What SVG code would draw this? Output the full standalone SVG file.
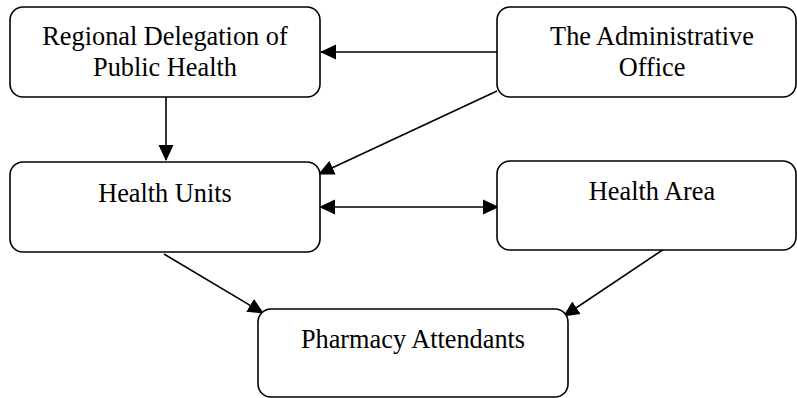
<svg xmlns="http://www.w3.org/2000/svg" width="797" height="398" viewBox="0 0 797 398">
  <style>
    .box { fill: #ffffff; stroke: #000000; stroke-width: 1.6; }
    .lbl { font-family: "Liberation Serif", "Times New Roman", serif; font-size: 26.3px; fill: #000000; text-anchor: middle; }
    .edge { stroke: #000000; stroke-width: 1.6; fill: none; marker-end: url(#head); }
  </style>
  <defs>
    <marker id="head" viewBox="0 0 16 16" refX="15" refY="8" markerWidth="16" markerHeight="16" markerUnits="userSpaceOnUse" orient="auto-start-reverse">
      <path d="M0,0.5 L16,8 L0,15.5 Z" fill="#000000"/>
    </marker>
  </defs>

  <rect width="797" height="398" fill="#ffffff"/>

  <g id="connectors">
    <line class="edge" x1="497" y1="52" x2="321" y2="52"/>
    <line class="edge" x1="166" y1="97" x2="166" y2="160"/>
    <line class="edge" x1="497" y1="91" x2="319" y2="174"/>
    <line class="edge" x1="320" y1="207" x2="498" y2="207" marker-start="url(#head)"/>
    <line class="edge" x1="164" y1="254" x2="263" y2="313"/>
    <line class="edge" x1="664" y1="249" x2="564" y2="316"/>
  </g>

  <g id="regional-delegation">
    <rect class="box" x="10" y="7" width="310" height="90" rx="13"/>
    <text class="lbl" x="165" y="45">Regional Delegation of</text>
    <text class="lbl" x="165" y="76">Public Health</text>
  </g>

  <g id="administrative-office">
    <rect class="box" x="497" y="7" width="299" height="90" rx="13"/>
    <text class="lbl" x="652" y="45">The Administrative</text>
    <text class="lbl" x="652" y="76">Office</text>
  </g>

  <g id="health-units">
    <rect class="box" x="10" y="162" width="310" height="90" rx="13"/>
    <text class="lbl" x="165" y="202">Health Units</text>
  </g>

  <g id="health-area">
    <rect class="box" x="497" y="161" width="299" height="89" rx="13"/>
    <text class="lbl" x="652" y="200">Health Area</text>
  </g>

  <g id="pharmacy-attendants">
    <rect class="box" x="258" y="309" width="310" height="88" rx="13"/>
    <text class="lbl" x="413" y="348">Pharmacy Attendants</text>
  </g>
</svg>
